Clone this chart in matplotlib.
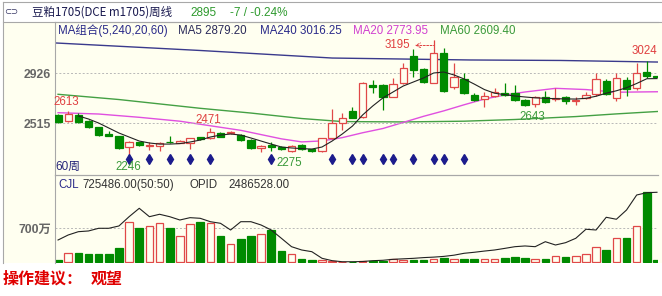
import numpy as np
import matplotlib
matplotlib.use("Agg")
import matplotlib.pyplot as plt
from matplotlib.lines import Line2D

plt.rcParams['font.family'] = ['Liberation Sans', 'Noto Sans CJK SC']

W, H = 662, 296

# weekly candles 豆粕1705
opens = [2580, 2534, 2581, 2534, 2482, 2425, 2408, 2315, 2356, 2330,
         2328, 2362, 2353, 2353, 2397, 2389, 2435, 2430, 2416, 2375,
         2307, 2334, 2320, 2287, 2334, 2299, 2285, 2389, 2512, 2614,
         2567, 2827, 2827, 2731, 2841, 3066, 2956, 2846, 3088, 2813,
         2874, 2745, 2710, 2737, 2764, 2759, 2704, 2671, 2731, 2715,
         2726, 2700, 2718, 2751, 2860, 2723, 2868, 2800, 2937, 2900]
highs = [2592, 2613, 2595, 2540, 2485, 2452, 2412, 2370, 2362, 2362,
         2360, 2408, 2375, 2395, 2402, 2471, 2445, 2450, 2425, 2380,
         2333, 2362, 2330, 2332, 2340, 2305, 2395, 2627, 2595, 2649,
         2850, 2868, 2835, 2882, 3006, 3125, 2965, 3195, 3130, 3011,
         2923, 2760, 2772, 2800, 2846, 2824, 2715, 2733, 2780, 2800,
         2735, 2731, 2767, 2923, 2875, 2923, 2895, 3006, 3024, 2903]
lows = [2515, 2525, 2518, 2475, 2405, 2405, 2300, 2246, 2325, 2292,
        2288, 2350, 2348, 2299, 2376, 2385, 2398, 2425, 2370, 2300,
        2279, 2282, 2290, 2275, 2292, 2280, 2280, 2385, 2457, 2555,
        2560, 2759, 2622, 2725, 2835, 2896, 2845, 2840, 2766, 2795,
        2755, 2700, 2649, 2730, 2740, 2700, 2655, 2643, 2680, 2700,
        2669, 2663, 2710, 2740, 2745, 2700, 2735, 2790, 2885, 2893]
closes = [2523, 2589, 2526, 2480, 2416, 2410, 2307, 2361, 2334, 2338,
          2355, 2356, 2369, 2389, 2381, 2443, 2402, 2440, 2375, 2307,
          2328, 2315, 2299, 2326, 2299, 2284, 2389, 2512, 2559, 2559,
          2846, 2808, 2731, 2836, 2965, 2951, 2854, 3088, 2780, 2896,
          2759, 2704, 2737, 2772, 2745, 2704, 2663, 2726, 2690, 2720,
          2698, 2705, 2745, 2874, 2750, 2882, 2792, 2923, 2902, 2895]

# volume, 万手
volumes = [49, 194, 194, 173, 158, 173, 288, 824, 709, 735,
           811, 709, 544, 791, 824, 811, 544, 365, 482, 536,
           571, 653, 227, 173, 70, 35, 49, 30, 8, 8,
           10, 15, 20, 62, 48, 48, 34, 62, 82, 62,
           62, 62, 69, 69, 89, 96, 82, 62, 62, 124,
           103, 124, 172, 309, 254, 494, 494, 748, 1435, 50]
vol_ma = [453, 556, 624, 639, 694, 694, 742, 933, 1106, 933,
          983, 933, 865, 913, 900, 830, 797, 659, 830, 830,
          762, 659, 488, 315, 247, 212, 76, 27, 5, 5,
          10, 27, 35, 55, 65, 75, 90, 100, 115, 140,
          179, 200, 225, 247, 280, 315, 330, 315, 418, 350,
          398, 488, 674, 659, 921, 880, 1071, 1380, 1428, 1436]

# moving averages
ma5 = [2573, 2548, 2515, 2474, 2433, 2400, 2367, 2351, 2342, 2342,
       2346, 2359, 2375, 2400, 2416, 2425, 2416, 2392, 2367, 2342,
       2318, 2310, 2305, 2301, 2318, 2367, 2425, 2490, 2581, 2655,
       2721, 2770, 2819, 2852, 2885, 2926, 2934, 2910, 2877, 2835,
       2790, 2760, 2748, 2737, 2729, 2722, 2718, 2715, 2713, 2712,
       2718, 2735, 2760, 2780, 2805, 2840, 2879, 2880]
ma20_x = [0, 4, 8, 12, 14, 16, 18, 20, 22, 24, 26, 28, 30, 32, 34, 36, 38,
          40, 42, 44, 46, 48, 49, 52, 55, 59.1]
ma20 = [2600, 2589, 2562, 2530, 2505, 2480, 2455, 2420, 2385, 2360, 2368,
        2395, 2435, 2470, 2520, 2570, 2615, 2665, 2712, 2745, 2770, 2790,
        2800, 2790, 2768, 2772]
ma60_x = [0, 6, 14, 19, 24, 28, 34, 40, 45, 51, 55, 59.1]
ma60 = [2751, 2708, 2636, 2597, 2552, 2527, 2524, 2530, 2544, 2568, 2590, 2610]
ma240_x = [-0.3, 14, 27, 40.6, 49.5, 59.1]
ma240 = [3173, 3111, 3049, 3033, 3029, 3016]

signal_idx = [7, 9, 11, 13, 15, 21, 27, 29, 30, 32, 33, 35, 37, 38, 40]
ext_idx = [1, 7, 15, 23, 37, 47, 58]
ext_val = [2613, 2246, 2471, 2275, 3195, 2643, 3024]

RED = '#e04848'
GRN = '#008a00'
BG = '#fffff0'
NAVY = '#26267a'

fig = plt.figure(figsize=(W / 100, H / 100), dpi=100)
fig.patch.set_facecolor('white')


def px(x0, y0, x1, y1):
    return [x0 / W, 1 - y1 / H, (x1 - x0) / W, (y1 - y0) / H]


def ftext(x, y, s, **kw):
    fig.text(x / W, 1 - y / H, s, va='center', **kw)


bg = fig.add_axes(px(3, 22, 662, 263))
bg.set_facecolor(BG)
bg.set_xticks([])
bg.set_yticks([])
for s in bg.spines.values():
    s.set_visible(False)

for (x0, y0, x1, y1) in [(3, 2, 662, 2), (3, 2, 3, 263), (3, 22, 662, 22)]:
    fig.add_artist(Line2D([x0 / W, x1 / W], [1 - y0 / H, 1 - y1 / H],
                          color='#a8a8a8', lw=0.8))

ax = fig.add_axes(px(55, 22, 658, 175))
axv = fig.add_axes(px(55, 175, 658, 263))
n = len(closes)
xs = np.arange(n)
up = np.array(closes) >= np.array(opens)

for a in (ax, axv):
    a.set_facecolor('none')
    a.set_xlim(-0.3, 59.1)
    a.set_xticks([])
    a.spines['right'].set_visible(False)
    for s in ('left', 'top', 'bottom'):
        a.spines[s].set_color('#a8a8a8')
        a.spines[s].set_linewidth(0.8)
    a.tick_params(axis='y', length=0, pad=3, labelsize=8.8, labelcolor='#666666')
    a.grid(axis='y', ls=(0, (2, 2)), color='#b8b8b8', lw=0.7)
axv.spines['bottom'].set_visible(False)

# candles
ax.set_ylim(2088, 3345)
ax.set_yticks([2515, 2926])
ax.set_yticklabels(['2515', '2926'], fontweight='bold')
for i in range(n):
    c = RED if up[i] else GRN
    ax.vlines(xs[i], lows[i], highs[i], color=c, lw=0.9, zorder=2)
    body = closes[i] - opens[i]
    if abs(body) < 3:
        ax.hlines(closes[i], xs[i] - 0.36, xs[i] + 0.36, color=c, lw=1.0, zorder=3)
    else:
        ax.bar(xs[i], body, bottom=opens[i], width=0.72,
               facecolor=BG if up[i] else GRN, edgecolor=c, lw=0.9, zorder=3)

ax.plot(ma240_x, ma240, color='#3a3a8c', lw=1.0, zorder=1)
ax.plot(ma60_x, ma60, color='#44a044', lw=1.0, zorder=1)
ax.plot(ma20_x, ma20, color='#e050e0', lw=1.0, zorder=1)
ax.plot(xs[2:], ma5, color='#222222', lw=0.8, zorder=4)

ax.plot(signal_idx, [0.105] * len(signal_idx), ls='none', marker='d', ms=5.5,
        color='#1c1c8c', transform=ax.get_xaxis_transform(), clip_on=False)

offs = {1: (-2, 9), 7: (-1, -11), 15: (-2, 8), 23: (-2, -11), 47: (-3, -10), 58: (-2, 10)}
for i, v in zip(ext_idx, ext_val):
    col = '#3a9a3a' if i in (7, 23, 47) else '#e04040'
    if i == 37:
        ax.annotate(str(v), xy=(i, v), xytext=(-23, -5), textcoords='offset pixels',
                    ha='right', va='center', fontsize=8.3, color=col,
                    arrowprops=dict(arrowstyle='<-', ls=(0, (2, 1.5)), color=col, lw=0.7,
                                    shrinkA=1, shrinkB=0,
                                    connectionstyle='angle,angleA=0,angleB=90,rad=0'))
    else:
        ax.annotate(str(v), xy=(i, v), xytext=offs[i], textcoords='offset pixels',
                    ha='center', va='center', fontsize=8.3, color=col)

ax.text(0.0, 0.055, '60周', transform=ax.transAxes, fontsize=8.5, color=NAVY,
        va='center', ha='left')

# volume
axv.set_ylim(-21, 1792)
axv.set_yticks([700])
axv.set_yticklabels(['700万'], fontweight='bold')
vcol = [RED if u else GRN for u in up]
axv.bar(xs, volumes, width=0.75, facecolor=[BG if u else GRN for u in up],
        edgecolor=vcol, lw=0.9, zorder=2)
axv.plot(xs, vol_ma, color='#222222', lw=0.8, zorder=3)

# header and legends
ftext(4, 12, '⊂⊃', fontsize=6, color='#303060', family='DejaVu Sans')
ftext(32, 12, '豆粕1705(DCE m1705)周线', fontsize=8.3, color='#1a1a50',
      family=['Noto Sans CJK SC'])
ftext(190, 13, '2895', fontsize=8.5, color='#2e9a2e')
ftext(230, 13, '-7 / -0.24%', fontsize=8.5, color='#2e9a2e')

ftext(58, 31, 'MA组合(5,240,20,60)', fontsize=8.3, color='#2a2a8a')
ftext(178, 31, 'MA5 2879.20', fontsize=8.3, color='#2a2a5a')
ftext(260, 31, 'MA240 3016.25', fontsize=8.3, color='#2a2a8a')
ftext(353, 31, 'MA20 2773.95', fontsize=8.3, color='#d040d0')
ftext(440, 31, 'MA60 2609.40', fontsize=8.3, color='#3a9a3a')

ftext(58, 185, 'CJL', fontsize=8.3, color='#2a2a8a')
ftext(82, 185, '725486.00(50:50)', fontsize=8.3, color='#333333')
ftext(190, 185, 'OPID', fontsize=8.3, color='#333333')
ftext(228, 185, '2486528.00', fontsize=8.3, color='#333333')

ftext(3, 279, '操作建议：', fontsize=11.5, color='#e00000', fontweight='bold',
      family=['Noto Sans CJK SC'])
ftext(91, 279, '观望', fontsize=11.5, color='#e00000', fontweight='bold',
      family=['Noto Sans CJK SC'])

fig.savefig('out.png', dpi=100, facecolor='white')
